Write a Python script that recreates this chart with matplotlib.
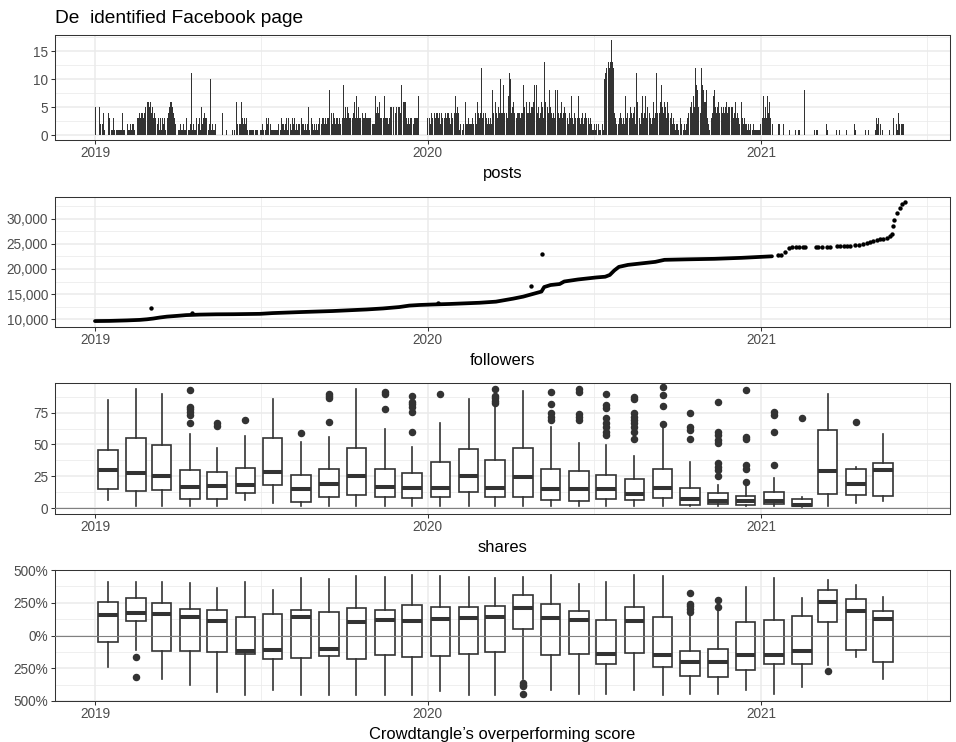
import datetime as dt
import matplotlib
matplotlib.use("Agg")
import matplotlib.pyplot as plt
import matplotlib.dates as mdates
import matplotlib.ticker as mticker

plt.rcParams['font.family'] = ['Liberation Sans', 'DejaVu Sans']

# ---------------- data ----------------
# daily post counts, one string per month, one character per day (base-36 digit: a=10, b=11 ... h=17)
posts_2019 = [
    "0500052024 1320043011 3111111111 4",
    "1111021121 2212123343 44345566",
    "6564534323 2313132312 2345665432 1",
    "1211211211 312112b121 1321231523",
    "4332312a12 1120000000 4000100100 0",
    "1010622322 6323231121 1111011101",
    "2112101323 2121111111 2121322123 1",
    "3222132312 1225232212 1251213212 1",
    "2123232332 3233863424 3233232353",
    "9353543333 3463735333 3433433333 6",
    "5222745463 3353733323 5504504505",
    "549a666632 3233232333 3700000100 0",
]
posts_2020 = [
    "3032434243 4434243443 4344324334 4",
    "7454120122 3622322232 45426434c",
    "3453432323 2845464354 a449433437 b",
    "a456454344 4344954764 4645569459",
    "4534653d65 a548543438 4584346345 4",
    "3232437324 3423732342 3436232321",
    "1212112110 21abcbcdcd hdc4324323 4",
    "3232734243 543452b645 3247347354 3",
    "4323634b45 3469546536 4323423212",
    "2121320121 234a856475 c985464c98 6",
    "6832121347 8545645c54 5456455a45",
    "5346343235 6323221212 2112111111 2",
]
posts_2021 = [
    "2337353746 3112000002 2000020000 0",
    "1001100100 1100110800 00000000",
    "1011000002 0002100000 0000100100 0",
    "1000100000 0002100000 0020010010",
    "0000101323 0201000000 0100032002 1",
    "42022220",
]

# followers: dense part (continuous run of daily points)
followers_dense_dates = [
    "2019-01-01", "2019-01-17", "2019-02-05", "2019-02-19", "2019-02-27", "2019-03-06",
    "2019-03-13", "2019-03-21", "2019-04-01", "2019-04-11", "2019-04-26", "2019-05-14",
    "2019-06-02", "2019-07-01", "2019-07-15", "2019-08-14", "2019-09-19", "2019-10-26",
    "2019-11-13", "2019-12-01", "2019-12-12", "2019-12-23", "2020-01-07", "2020-01-25",
    "2020-02-27", "2020-03-16", "2020-04-04", "2020-04-15", "2020-04-25", "2020-05-05",
    "2020-05-08", "2020-05-15", "2020-05-25", "2020-05-30", "2020-06-14", "2020-07-04",
    "2020-07-14", "2020-07-19", "2020-07-24", "2020-07-29", "2020-08-08", "2020-08-23",
    "2020-09-07", "2020-09-17", "2020-10-12", "2020-11-11", "2020-12-11", "2021-01-13",
]
followers_dense_values = [
    9650, 9680, 9780, 9880, 10000, 10150,
    10350, 10530, 10680, 10830, 10930, 10990,
    11010, 11080, 11230, 11430, 11640, 11950,
    12150, 12430, 12720, 12840, 12940, 13040,
    13280, 13500, 14100, 14500, 15000, 15500,
    16400, 16800, 17000, 17500, 17900, 18300,
    18450, 18800, 19700, 20400, 20800, 21100,
    21400, 21800, 21900, 22000, 22200, 22500,
]
# followers: sparse daily points in 2021
followers_2021_dates = [
    "2021-01-20", "2021-01-23", "2021-01-27", "2021-02-01", "2021-02-04", "2021-02-08",
    "2021-02-12", "2021-02-16", "2021-02-18", "2021-03-02", "2021-03-05", "2021-03-09",
    "2021-03-14", "2021-03-18", "2021-03-25", "2021-03-29", "2021-04-02", "2021-04-05",
    "2021-04-09", "2021-04-14", "2021-04-18", "2021-04-23", "2021-04-27", "2021-05-01",
    "2021-05-04", "2021-05-08", "2021-05-12", "2021-05-15", "2021-05-19", "2021-05-23",
    "2021-05-25", "2021-05-26", "2021-05-27", "2021-05-30", "2021-06-02", "2021-06-05",
    "2021-06-08",
]
followers_2021_values = [
    22700, 22850, 23300, 24200, 24260, 24260,
    24260, 24260, 24260, 24260, 24300, 24300,
    24390, 24390, 24500, 24520, 24520, 24550,
    24600, 24700, 24750, 24900, 25200, 25300,
    25450, 25650, 25850, 26000, 26150, 26500,
    27000, 28600, 29700, 31000, 32100, 32800,
    33200,
]
followers_odd_dates = ["2019-03-03", "2019-04-18", "2020-01-13", "2020-04-23", "2020-05-06"]
followers_odd_values = [12200, 11250, 13250, 16600, 22950]

# monthly boxplots, Jan 2019 .. May 2021
box_months = [(2019, m) for m in range(1, 13)] + [(2020, m) for m in range(1, 13)] + \
             [(2021, m) for m in range(1, 6)]

shares_lo = [6, 1.6, 1.6, 1.6, 1.6, 6, 3.7, 1.6, 1.6, 1.6, 1.6, 1.6,
             1.6, 1.6, 1.6, 1.6, 1.6, 1.6, 1.6, 1.6, 1.6, 1.6, 1.6, 1.6,
             1.6, 1, 1.6, 3.9, 5.3]
shares_q1 = [15, 13, 14, 6.8, 7.1, 11.6, 18.4, 4.7, 8.7, 10.5, 8.7, 7.6,
             8.7, 12.6, 8.7, 8.7, 6.6, 5.5, 7.4, 6.6, 7.6, 2.4, 3.4, 2.4,
             3.4, 1.6, 10.8, 10, 9.5]
shares_med = [30, 27.6, 25.5, 16.6, 17.4, 18.2, 28.4, 15.3, 18.9, 25, 16.6, 15.5,
              15.5, 25, 16, 24, 15.3, 14.7, 15.3, 11, 16, 7.1, 5.3, 5.5,
              5.5, 2.1, 29.2, 19.2, 29.7]
shares_q3 = [45.5, 54.7, 49.7, 30, 28.4, 31.8, 55.3, 26.3, 30.3, 47.4, 30.3, 27.4,
             35.8, 46.6, 37.6, 46.8, 30.8, 29.5, 25.8, 22.9, 30.5, 16, 11.8, 9.7,
             12.4, 7.4, 61.3, 30.8, 35.5]
shares_hi = [85, 93.7, 89.7, 57.9, 46.8, 56.8, 85.8, 51.8, 55.5, 93.7, 61.8, 47.6,
             66.6, 85.8, 79.7, 92.4, 63.4, 50.8, 49.5, 40.8, 63.9, 35.8, 17.9, 17.9,
             23.7, 8.7, 89.7, 32.4, 57.9]
shares_out = [[], [], [], [92.9, 79.7, 77.6, 75.3, 73.2, 67.1], [67.1, 64.7], [69],
              [], [58.7], [89.7, 88.2, 86.3, 67.9], [], [91.6, 89.7, 77.9],
              [88.2, 83.7, 81.6, 79.7, 75.8, 60],
              [90], [], [93.7, 88.2, 86.3, 84.5, 82.9], [], [91, 81.8, 75, 71.8, 69.2],
              [93.7, 91.6, 73.9, 71.8, 69.2], [89.7, 81, 78.4, 70.5, 66.6, 63.4, 60, 57.4],
              [87.6, 85.5, 74.5, 71.8, 69.2, 67.1, 63.4, 60, 54], [95.5, 88.9, 80.3, 66],
              [75, 63.4, 61.3, 54], [83.2, 60, 57.4, 53.4, 51.3, 35.5, 32.4, 29.7, 25],
              [92.9, 56, 54, 33.7, 31, 20.5],
              [75.8, 73.2, 60, 33.7], [71], [], [67.9], []]

score_lo = [-238, -110, -333, -379, -431, -456, -413, -456, -456, -456, -456, -456,
            -426, -456, -456, -330, -418, -444, -444, -418, -451, -444, -444, -418,
            -444, -395, -226, -167, -333]
score_q1 = [-51, 108, -118, -120, -123, -141, -182, -174, -156, -182, -146, -167,
            -159, -144, -123, 49, -149, -138, -221, -136, -244, -308, -313, -267,
            -218, -218, 105, -113, -203]
score_med = [154, 169, 167, 138, 113, -118, -110, 138, -103, 103, 121, 110,
             128, 133, 141, 210, 133, 121, -144, 113, -149, -200, -200, -149,
             -149, -121, 256, 185, 128]
score_q3 = [254, 285, 246, 203, 192, 141, 167, 192, 177, 208, 195, 231,
            218, 218, 223, 308, 238, 185, 118, 218, 144, -121, -105, 105,
            115, 151, 351, 279, 185]
score_hi = [408, 408, 410, 397, 364, 408, 351, 436, 433, 454, 444, 462,
            451, 444, 436, 444, 462, 390, 405, 462, 456, 159, 197, 367,
            436, 290, 421, 382, 295]
score_out = [[], [-162, -320], [], [], [], [], [], [], [], [], [], [],
             [], [], [], [-360, -375, -385, -444], [], [], [], [], [],
             [326, 241, 223, 203, 179], [274, 218], [],
             [], [], [-272], [], []]

score_ticks = [-500, -250, 0, 250, 500]
score_tick_labels = ["500%", "250%", "0%", "250%", "500%"]

title_text = "De  identified Facebook page"
xlabels = ["posts", "followers", "shares", "Crowdtangle\u2019s overperforming score"]

# ---------------- helpers ----------------
def d(s):
    return dt.datetime.strptime(s, "%Y-%m-%d")

post_dates, post_vals = [], []
for year, months in ((2019, posts_2019), (2020, posts_2020), (2021, posts_2021)):
    for mi, s in enumerate(months):
        s = s.replace(" ", "")
        start = dt.datetime(year, mi + 1, 1)
        for i, ch in enumerate(s):
            v = int(ch, 36)
            if v > 0:
                post_dates.append(start + dt.timedelta(days=i))
                post_vals.append(v)

W, H = 956, 742
fig = plt.figure(figsize=(W / 100, H / 100), dpi=100)


def add_ax(top, bottom):
    return fig.add_axes([55 / W, 1 - bottom / H, 895 / W, (bottom - top) / H])


ax1 = add_ax(35, 140)
ax2 = add_ax(197, 327)
ax3 = add_ax(383, 514)
ax4 = add_ax(570, 701)

x0 = mdates.date2num(dt.datetime(2019, 1, 1)) - 43.9
x1 = mdates.date2num(dt.datetime(2021, 1, 1)) + 207.4
minor_x = [mdates.date2num(dt.datetime(y, 7, 2)) for y in (2019, 2020, 2021)]

GRID = '#EBEBEB'
DARK = '#333333'


def style(ax):
    ax.set_facecolor('white')
    for sp in ax.spines.values():
        sp.set_color(DARK)
        sp.set_linewidth(0.75)
    ax.set_axisbelow(True)
    ax.grid(which='major', color=GRID, linewidth=1.1)
    ax.grid(which='minor', color=GRID, linewidth=0.55)
    ax.xaxis.set_major_locator(mdates.YearLocator())
    ax.xaxis.set_major_formatter(mdates.DateFormatter('%Y'))
    ax.xaxis.set_minor_locator(mticker.FixedLocator(minor_x))
    ax.set_xlim(x0, x1)
    ax.tick_params(which='major', length=3, width=0.75, color=DARK,
                   labelsize=9.8, labelcolor='#4D4D4D')
    ax.tick_params(axis='x', which='major', pad=1.5)
    ax.tick_params(axis='y', which='major', pad=2)
    ax.tick_params(which='minor', length=0)


# panel 1: posts
ax1.bar(post_dates, post_vals, width=0.9, color='#333333', linewidth=0)
style(ax1)
ax1.set_ylim(-0.85, 17.85)
ax1.yaxis.set_major_locator(mticker.FixedLocator([0, 5, 10, 15]))
ax1.yaxis.set_minor_locator(mticker.FixedLocator([2.5, 7.5, 12.5, 17.5]))

# panel 2: followers
ax2.plot([d(s) for s in followers_dense_dates], followers_dense_values,
         color='black', lw=2.7, solid_capstyle='round', solid_joinstyle='round')
ax2.scatter([d(s) for s in followers_2021_dates], followers_2021_values,
            s=10, color='black', linewidths=0, zorder=3)
ax2.scatter([d(s) for s in followers_odd_dates], followers_odd_values,
            s=10, color='black', linewidths=0, zorder=3)
style(ax2)
ax2.set_ylim(8470, 34270)
ax2.yaxis.set_major_locator(mticker.FixedLocator([10000, 15000, 20000, 25000, 30000]))
ax2.yaxis.set_minor_locator(mticker.FixedLocator([12500, 17500, 22500, 27500, 32500]))
ax2.yaxis.set_major_formatter(mticker.FuncFormatter(lambda v, p: f"{v:,.0f}"))

# panels 3/4: monthly boxplots
box_pos = [mdates.date2num(dt.datetime(y, m, 1) + dt.timedelta(days=14)) for y, m in box_months]


def draw_boxes(ax, lo, q1, med, q3, hi, out):
    stats = [dict(whislo=a, q1=b, med=c, q3=e, whishi=f, fliers=g)
             for a, b, c, e, f, g in zip(lo, q1, med, q3, hi, out)]
    ax.bxp(stats, positions=box_pos, widths=21.5, showcaps=False, patch_artist=True,
           manage_ticks=False,
           boxprops=dict(facecolor='white', edgecolor=DARK, linewidth=1.2),
           medianprops=dict(color=DARK, linewidth=2.9, solid_capstyle='butt'),
           whiskerprops=dict(color=DARK, linewidth=1.2),
           flierprops=dict(marker='o', markerfacecolor=DARK, markeredgecolor=DARK,
                           markersize=4.4, linestyle='none'))
    ax.axhline(0, color='#808080', lw=0.8, zorder=4)


draw_boxes(ax3, shares_lo, shares_q1, shares_med, shares_q3, shares_hi, shares_out)
style(ax3)
ax3.set_ylim(-4.7, 98.3)
ax3.yaxis.set_major_locator(mticker.FixedLocator([0, 25, 50, 75]))
ax3.yaxis.set_minor_locator(mticker.FixedLocator([12.5, 37.5, 62.5, 87.5]))

draw_boxes(ax4, score_lo, score_q1, score_med, score_q3, score_hi, score_out)
style(ax4)
ax4.set_ylim(-500, 500)
ax4.yaxis.set_major_locator(mticker.FixedLocator(score_ticks))
ax4.yaxis.set_major_formatter(mticker.FixedFormatter(score_tick_labels))
ax4.yaxis.set_minor_locator(mticker.FixedLocator([-375, -125, 125, 375]))

for ax, lab in zip((ax1, ax2, ax3, ax4), xlabels):
    ax.set_xlabel(lab, fontsize=11.9, color='black', labelpad=4)

fig.text(55 / W, 1 - 23 / H, title_text, fontsize=13.8, ha='left', va='baseline',
         color='black')

fig.savefig("out.png", dpi=100)
